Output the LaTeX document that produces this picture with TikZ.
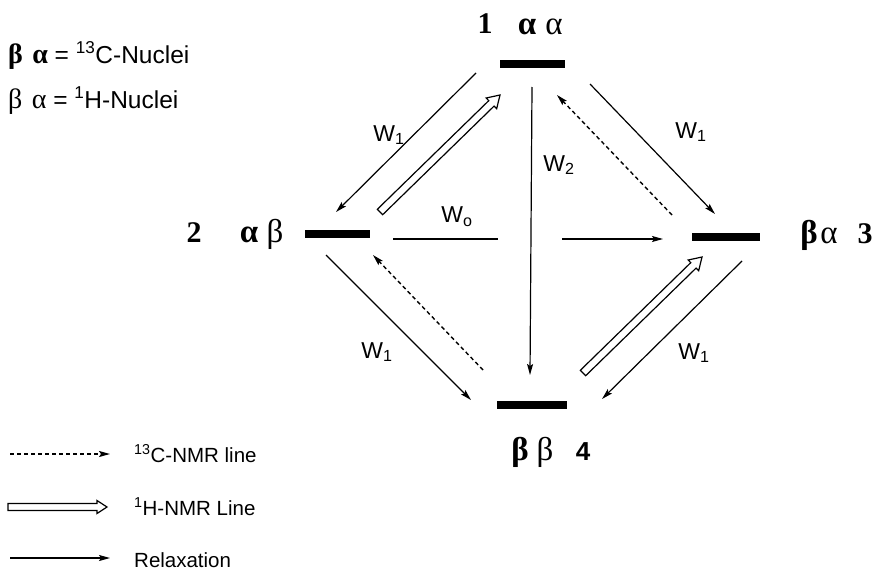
\documentclass[tikz,border=0pt]{standalone}
\usepackage{fontspec}
\setmainfont{Liberation Sans}
\newfontfamily\grk{Liberation Serif}
\usetikzlibrary{arrows.meta,calc}
\tikzset{
  level/.style={fill=black, draw=none, minimum height=8pt, inner sep=0pt},
  relax/.style={line width=1.2pt, -{Stealth[length=11pt,width=6pt,inset=2pt]}},
  cnmr/.style={line width=1.4pt, dash pattern=on 4pt off 3pt, -{Stealth[length=11pt,width=6pt,inset=2pt]}},
  plain/.style={line width=1.2pt},
  wlab/.style={font=\fontsize{23}{26}\selectfont, inner sep=0pt},
  glab/.style={font=\fontsize{33}{36}\selectfont\grk, inner sep=0pt, anchor=base},
  gblab/.style={font=\fontsize{33}{36}\selectfont\grk\bfseries, inner sep=0pt, anchor=base},
  nlab/.style={font=\fontsize{30}{33}\selectfont\grk\bfseries, inner sep=0pt, anchor=base},
  leg/.style={font=\fontsize{20.5}{24}\selectfont, inner sep=0pt, anchor=base west},
  toplab/.style={font=\fontsize{24.5}{28}\selectfont, inner sep=0pt, anchor=base west},
  hollowarr/.style={fill=white, draw=black, line width=1.2pt, line join=miter}
}
\newcommand\hollowarrow[5]{% from, to, shaft half width, head half width, head length
  \coordinate (ha-n) at ($(#2)!#5!(#1)$);
  \filldraw[hollowarr]
    ($(#1)!#3!90:(#2)$) -- ($(ha-n)!#3!-90:(#1)$) -- ($(ha-n)!#4!-90:(#1)$) -- (#2)
    -- ($(ha-n)!#4!90:(#1)$) -- ($(ha-n)!#3!90:(#1)$) -- ($(#1)!#3!-90:(#2)$) -- cycle;
}
\begin{document}
\begin{tikzpicture}[x=1pt,y=-1pt]
\useasboundingbox (0,0) rectangle (874,570);

% energy levels
\node[level, minimum width=65pt] (L1) at (532.5,64) {};
\node[level, minimum width=65pt] (L2) at (337.5,233.5) {};
\node[level, minimum width=68pt] (L3) at (726,236.5) {};
\node[level, minimum width=70pt] (L4) at (532,405) {};

% level labels
\node[nlab] (n1) at (485,33) {1};
\node[gblab] (g1a) at (527,34) {α};
\node[glab] (g1b) at (554,34) {α};
\node[nlab] (n2) at (194,242) {2};
\node[gblab] (g2a) at (249,242) {α};
\node[glab] (g2b) at (275,242) {β};
\node[gblab] (g3a) at (809,243) {β};
\node[glab] (g3b) at (829,243) {α};
\node[nlab] (n3) at (865,243) {3};
\node[gblab] (g4a) at (520,460) {β};
\node[glab] (g4b) at (545,460) {β};
\node[font=\fontsize{26}{28}\selectfont\bfseries, inner sep=0pt, anchor=base] (n4) at (583,460) {4};

% arrow end points
\coordinate (a12s) at (476,73);  \coordinate (a12e) at (336,212);
\coordinate (h21s) at (380,212); \coordinate (h21e) at (500,95);
\coordinate (a14s) at (532,87);  \coordinate (a14e) at (530,375);
\coordinate (a23s) at (393,239); \coordinate (a23m) at (498,239);
\coordinate (a23n) at (562,239); \coordinate (a23e) at (663,239);
\coordinate (d31s) at (672,215); \coordinate (d31e) at (557,95);
\coordinate (a13s) at (590,84);  \coordinate (a13e) at (715,214);
\coordinate (a24s) at (326,255); \coordinate (a24e) at (471,400);
\coordinate (d42s) at (483,370); \coordinate (d42e) at (373,255);
\coordinate (h43s) at (583,373); \coordinate (h43e) at (702,257);
\coordinate (a34s) at (742,261); \coordinate (a34e) at (602,399);

% connectors
\draw[relax] (a12s) -- (a12e);
\hollowarrow{h21s}{h21e}{3.8pt}{7.5pt}{12pt}
\draw[relax] (a14s) -- (a14e);
\draw[plain] (a23s) -- (a23m);
\draw[relax] (a23n) -- (a23e);
\draw[cnmr] (d31s) -- (d31e);
\draw[relax] (a13s) -- (a13e);
\draw[relax] (a24s) -- (a24e);
\draw[cnmr] (d42s) -- (d42e);
\hollowarrow{h43s}{h43e}{3.8pt}{7.5pt}{12pt}
\draw[relax] (a34s) -- (a34e);

% rate labels
\node[wlab] (w1a) at (389,135) {W\textsubscript{1}};
\node[wlab] (w1b) at (691,132) {W\textsubscript{1}};
\node[wlab] (w2) at (559,165) {W\textsubscript{2}};
\node[wlab] (w0) at (457,217) {W\textsubscript{o}};
\node[wlab] (w1c) at (377,352) {W\textsubscript{1}};
\node[wlab] (w1d) at (694,353) {W\textsubscript{1}};

% top legend
\node[toplab] (t1) at (8,63) {{\grk\bfseries\fontsize{28}{30}\selectfont β\,\,α} = \textsuperscript{13}C-Nuclei};
\node[toplab] (t2) at (8,108) {{\grk\fontsize{28}{30}\selectfont β\,\,α} = \textsuperscript{1}H-Nuclei};

% bottom legend
\coordinate (l1s) at (10,454); \coordinate (l1e) at (110,454);
\coordinate (l2s) at (8,507);  \coordinate (l2e) at (107,507);
\coordinate (l3s) at (10,558); \coordinate (l3e) at (110,558);
\draw[cnmr] (l1s) -- (l1e);
\hollowarrow{l2s}{l2e}{3.5pt}{6.5pt}{10pt}
\draw[relax] (l3s) -- (l3e);
\node[leg] (c1) at (134,462) {\textsuperscript{13}C-NMR line};
\node[leg] (c2) at (134,515) {\textsuperscript{1}H-NMR Line};
\node[leg] (c3) at (134,567) {Relaxation};
\end{tikzpicture}
\end{document}
